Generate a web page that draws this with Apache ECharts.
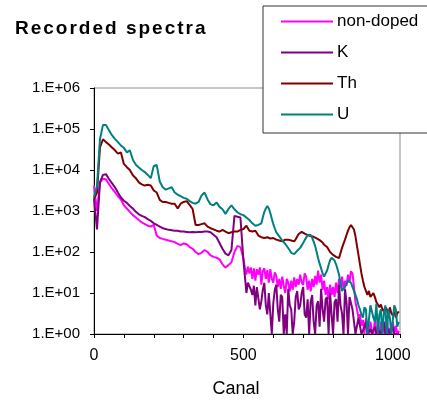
<!DOCTYPE html>
<html>
<head>
<meta charset="utf-8">
<script src="https://cdn.jsdelivr.net/npm/echarts@6/dist/echarts.min.js"></script>
<style>
html,body{margin:0;padding:0;background:#fff;}
#wrap{position:relative;width:427px;height:403px;overflow:hidden;}
#chart{position:absolute;left:0;top:0;width:427px;height:403px;}
#title{position:absolute;left:15px;top:18px;font:bold 19px "Liberation Sans",Arial,sans-serif;letter-spacing:2px;color:#000;line-height:19px;white-space:nowrap;}
</style>
</head>
<body>
<div id="wrap">
<div id="chart"></div>
<div id="title">Recorded spectra</div>
</div>
<script>
const channels = [0,10,20,30,40,50,60,70,80,90,
100,110,120,130,140,150,160,170,180,190,
200,210,220,230,240,250,260,270,280,290,
300,310,320,330,340,350,360,370,380,390,
400,410,420,430,440,450,460,470,480,490,
500,505,510,515,520,525,530,535,540,545,
550,555,560,565,570,575,580,585,590,595,
600,605,610,615,620,625,630,635,640,645,
650,655,660,665,670,675,680,685,690,695,
700,705,710,715,720,725,730,735,740,745,
750,755,760,765,770,775,780,785,790,795,
800,805,810,815,820,825,830,835,840,845,
850,855,860,865,870,875,880,885,890,895,
900,905,910,915,920,925,930,935,940,945,
950,955,960,965,970,975,980,985,990,995,
1000,1005,1010,1015,1020];

const nonDoped = [4170,1000,5010,6170,5890,4570,3550,2880,2290,1910,
1380,1150,955,794,692,603,525,479,437,417,
457,251,219,209,200,191,182,174,158,148,
162,155,132,120,100,89.1,95.5,112,100,83.2,
75.9,72.4,66.1,50.1,41.7,47.9,56.2,100,141,132,
70.8,40,28.2,44,30,42,22,40,20,38,
28,42,16,35,40,22,36,18,38,22,
17.8,32,26,14,22,12.6,25,15,10,22,
17.8,11,20,12,24,14,22,16,28,18,
15.8,30,25,12,20,11,22,14,26,16,
35,18,28,12,20,9,14,7,16,9,
14,8,18,10,22,14,25,12,20,15,
28,18,34,30,14,6,4,2.5,3,1.6,
2.2,1,2.4,1.3,1,2,1.2,1,2.2,1,
1.6,1,2,1,1.5,1,2.5,1,1.4,1,
2,1,1.6,1,1.2];

const kDoped = [2000,355,5010,7590,7940,6030,4790,3800,2820,2140,
1780,1580,1320,1150,955,832,759,708,631,575,
501,457,417,380,363,347,339,331,331,316,
316,309,302,309,302,309,309,316,316,302,
263,229,166,120,91.2,83.2,112,759,724,692,
63.1,25,10,18,20,12,8.91,15,5,14,
12.6,4,6.31,12,17.8,5,3,10,10,1,
5.62,12,15.8,4,2,9,7.94,1,3,1,
12.6,5,3.98,1,2,8,11.2,4,5.01,10,
14.1,3,2.51,7,1,6,8.91,2,1,5,
6.31,1.5,12.6,4,2,7,7.94,1,10,3,
1,6,7.08,2,15.8,5,3.16,1,12.6,6,
1,8,8.91,4,3.98,1,1,2.5,2.51,1,
1,1.5,2,1,1,1.3,1,1,1.5,1,
1,1.2,1,1,2,1,1,1.3,1,1,
1.5,1,1,1,1];

const thDoped = [2000,2820,35500,56200,47900,41700,35500,30200,25100,26900,
14100,11700,10000,7410,6310,5010,4470,4170,4370,4170,
3160,2820,1860,1660,1660,1580,1510,1510,1150,1510,
1660,1740,1410,1120,457,457,479,501,417,380,
355,331,316,347,316,288,302,316,316,347,
363,400,437,380,331,320,316,340,331,290,
251,240,229,222,219,225,229,220,214,218,
219,210,200,195,191,186,182,190,200,205,
200,195,191,186,182,205,240,275,302,310,
302,280,263,257,251,245,240,235,229,215,
200,195,191,170,151,140,132,115,100,92,
85.1,80,75.9,72,70.8,95,126,160,200,260,
331,400,457,440,355,240,141,85,50.1,30,
20,14,12.6,9,11.2,8,8.91,10,7.94,6,
6.31,4.5,5.25,4,3.55,4.5,3.98,3,4.47,3.2,
2.82,3.5,2.51,3.2,3.55];

const uDoped = [2200,4000,56200,126000,126000,93300,70800,57500,47900,39800,
34700,26900,30200,17800,13500,11500,10000,8910,7590,6310,
12600,13200,5250,3800,3310,3550,3800,2820,2510,2290,
2090,2000,1740,1580,1510,1660,2400,2820,1910,1450,
1380,1620,1260,1100,851,1120,1380,1100,933,832,
794,740,692,650,603,550,501,470,437,450,
457,470,501,700,955,1150,1320,1150,891,650,
479,380,302,270,240,215,191,175,158,140,
126,110,95.5,90,89.1,95,107,115,126,145,
166,195,224,260,282,260,224,180,141,100,
70.8,52,39.8,30,25.1,28,35.5,48,63.1,72,
75.9,62,50.1,38,28.2,17,11.2,12,14.1,17,
20,19,17.8,14,11.2,9,7.08,5,3.98,3,
2.51,4.5,4,1,1,5,5,2.5,2,5.5,
1,3,4,1,3.2,5,1,4,2.5,1,
1,5,4,1.5,2];

const seriesNames = ['non-doped','K','Th','U'];
const seriesColors = ['#FF00FF','#800080','#800000','#008080'];
const seriesValues = [nonDoped, kDoped, thDoped, uDoped];

const font = '"Liberation Sans", Arial, sans-serif';
const chart = echarts.init(document.getElementById('chart'), null, {renderer:'canvas'});
chart.setOption({
  animation: false,
  backgroundColor: '#fff',
  grid: {left: 94, right: 27, top: 88, bottom: 66, show: true, borderColor: '#8c8c8c', borderWidth: 1, backgroundColor: 'transparent'},
  legend: {
    orient: 'vertical', left: 263, top: 6,
    padding: [7, 20, 10, 18], itemGap: 14, itemWidth: 52, itemHeight: 2,
    icon: 'rect',
    borderColor: '#333', borderWidth: 1, backgroundColor: '#fff',
    textStyle: {fontFamily: font, fontSize: 17, color: '#000', lineHeight: 17, padding: [0,0,0,-1]},
    data: seriesNames
  },
  xAxis: {
    type: 'value', min: 0, max: 1024, interval: 100,
    name: 'Canal', nameLocation: 'middle', nameGap: 46,
    nameTextStyle: {fontFamily: font, fontSize: 18, color: '#000', padding: [0, 22, 0, 0]},
    axisLine: {show: true, onZero: false, lineStyle: {color: '#000', width: 1}},
    axisTick: {show: true, length: 4, lineStyle: {color: '#000'}},
    axisLabel: {fontFamily: font, fontSize: 16, color: '#000', margin: 14,
      formatter: v => (v % 500 === 0 ? String(v) : '')},
    splitLine: {show: false}
  },
  yAxis: {
    type: 'log', logBase: 10, min: 1, max: 1000000,
    axisLine: {show: true, lineStyle: {color: '#000', width: 1}},
    axisTick: {show: true, length: 4, lineStyle: {color: '#000'}},
    axisLabel: {fontFamily: font, fontSize: 15, color: '#000', margin: 14,
      formatter: v => { const e = Math.round(Math.log10(v)); return '1.E+' + (e < 10 ? '0' + e : e); }},
    splitLine: {show: false}
  },
  series: seriesNames.map((n, i) => ({
    name: n, type: 'line', symbol: 'none', showSymbol: false,
    color: seriesColors[i],
    lineStyle: {color: seriesColors[i], width: 2},
    data: channels.map((c, j) => [c, seriesValues[i][j]]),
    z: 2 + i
  }))
});
</script>
</body>
</html>
